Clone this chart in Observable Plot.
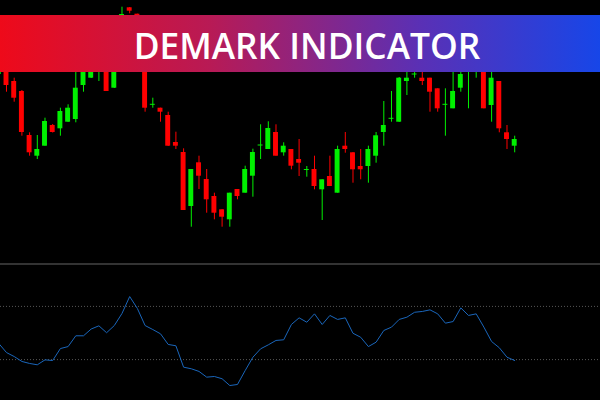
<!DOCTYPE html>
<html><head><meta charset="utf-8">
<script src="https://cdn.jsdelivr.net/npm/d3@7"></script>
<script src="https://cdn.jsdelivr.net/npm/@observablehq/plot@0.6"></script>
<style>
html,body{margin:0;padding:0;background:#000;}
#wrap{position:relative;width:600px;height:400px;background:#000;overflow:hidden;}
#topPanel svg,#bottomPanel svg{display:block;}
#banner{position:absolute;left:0;top:15px;width:600px;height:57px;
 background:linear-gradient(90deg,#ee0a1a 0%,#b81a55 35%,#5a30b5 70%,#1746e8 100%);}
#bannerText{position:absolute;left:307px;top:28px;transform:translateX(-50%);color:#fff;
 font-family:"Open Sans";font-weight:600;font-size:35.3px;line-height:1;white-space:nowrap;}
#sep{height:2px;background:#333;}
</style></head><body>
<div id="wrap"><div id="topPanel"></div><div id="sep"></div><div id="bottomPanel"></div><div id="banner"></div><div id="bannerText">DEMARK INDICATOR</div></div>
<script>
const open = [176,192,169,159,115,94.3,104.3,125,121.7,128.3,
131,165,172.3,188,205,162.3,210,242.7,236.3,212,
145.7,142.3,135,108,98,44,87.7,71,54,40.7,
30.7,61,57.3,74.3,105,101,118,97.7,101,91,
80,81,60.7,74,57.3,104.3,97.7,84,84,94.3,
118,131.7,128.3,169,176,172.3,172.3,161.7,145.7,141.7,
162.3,188,195,220,145,169,117.7,104.3];
const close = [195,165,152.3,118,97.7,101,129,118,139,142.3,
162.3,188,192,205,159,210,236,239.3,212,142.3,
145.7,138.3,104.3,104.3,40,81,74.3,50.7,37.3,33.3,
57.3,54,81,98,105,122,94.3,104.3,84.3,87.3,
80.5,64,70.7,64,101,101,80.7,80.7,101,114.7,
125,131.7,172.3,172.3,176,169,158.3,141.7,145.7,159,
176,205,215,141.7,172.3,121.7,111,111];
const high = [200,198,172.3,160,117.7,115,132.3,126,142.3,145.7,
180,195,200,212,210,215,243.3,243,236.3,215,
152.3,142.3,138.3,118.3,101.7,81,94.3,81,57.3,41,
57.3,61,84.3,101.3,125.7,128.7,125.7,107.7,101,111,
84,94.3,70.7,94.3,104.3,118,98,101,104.3,118,
149,159,173,178,179,178,172.3,161.7,161.7,185,
182,210,220,225,190,169,125,114.3];
const low = [175,158.3,148.3,114.3,94.3,91,104.3,117.5,114.3,128,
127.7,158.3,172,169,159,162,208,236.7,208,138.3,
142.3,128.3,104,101,40,23.3,61,37.3,30.7,23.3,
23.3,50.7,57.3,53.3,91,101,94.3,94.3,80.7,74,
73.3,60.7,30,64,57.3,97.3,67.3,70.7,67.3,87.3,
104.3,128.3,128,155,172.3,165,138.3,138.3,114.3,141.7,
158.3,141.7,172.3,141.7,128.3,117.7,101,97.7];
const demarker = [0.421,0.353,0.323,0.286,0.271,0.261,0.298,0.293,0.383,0.398,
0.479,0.479,0.530,0.554,0.502,0.556,0.647,0.774,0.684,0.556,
0.526,0.494,0.414,0.404,0.243,0.231,0.211,0.168,0.173,0.156,
0.105,0.113,0.218,0.318,0.381,0.411,0.444,0.449,0.564,0.614,
0.581,0.644,0.564,0.632,0.602,0.614,0.498,0.468,0.398,0.431,
0.519,0.544,0.602,0.619,0.656,0.662,0.674,0.644,0.574,0.586,
0.689,0.632,0.644,0.544,0.436,0.389,0.318,0.293];
const levels = [0.3, 0.7];

const UP = "#00f000", DOWN = "#ff0000";
const bars = open.map((o, i) => ({i, o, h: high[i], l: low[i], c: close[i]}));
const col = d => d.c >= d.o ? UP : DOWN;
const xDomain = [0.2208, 78.143];

const priceChart = Plot.plot({
  width: 600, height: 263,
  marginLeft: 0, marginRight: 0, marginTop: 0, marginBottom: 0,
  style: {background: "#000"},
  x: {domain: xDomain, axis: null},
  y: {domain: [-13, 250], axis: null},
  marks: [
    Plot.ruleX(bars, {x: "i", y1: "l", y2: "h", stroke: col, strokeWidth: 1}),
    Plot.rect(bars, {
      x1: d => d.i - 0.32, x2: d => d.i + 0.32,
      y1: d => Math.abs(d.o - d.c) < 1 ? d.c - 0.5 : Math.min(d.o, d.c),
      y2: d => Math.abs(d.o - d.c) < 1 ? d.c + 0.5 : Math.max(d.o, d.c),
      fill: col
    })
  ]
});
document.getElementById("topPanel").appendChild(priceChart);

const oscChart = Plot.plot({
  width: 600, height: 135,
  marginLeft: 0, marginRight: 0, marginTop: 1, marginBottom: 1,
  style: {background: "#000"},
  x: {domain: xDomain, axis: null},
  y: {domain: [0, 1], axis: null},
  marks: [
    Plot.ruleY(levels, {stroke: "#555", strokeDasharray: "1,2", strokeWidth: 1}),
    Plot.line(demarker, {x: (d, i) => i, y: d => d, stroke: "#1a66bb", strokeWidth: 1})
  ]
});
document.getElementById("bottomPanel").appendChild(oscChart);
</script>
</body></html>
